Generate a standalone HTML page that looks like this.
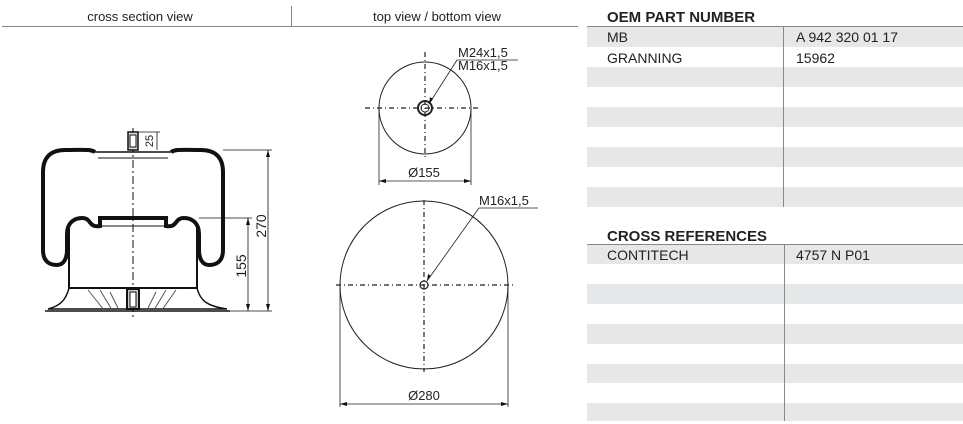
<!DOCTYPE html>
<html><head><style>
body{margin:0;background:#fff;}
svg{display:block;font-family:"Liberation Sans",Arial,sans-serif;}
</style></head><body>
<svg width="963" height="424" viewBox="0 0 963 424" xmlns="http://www.w3.org/2000/svg">
<!-- headers -->
<text x="140" y="21" font-size="13" text-anchor="middle" fill="#222">cross section view</text>
<text x="437" y="21" font-size="13" text-anchor="middle" fill="#222">top view / bottom view</text>
<line x1="2" y1="26.5" x2="578" y2="26.5" stroke="#888" stroke-width="1"/>
<line x1="291.5" y1="6" x2="291.5" y2="26" stroke="#888" stroke-width="1"/>

<!-- cross section -->
<g fill="none" stroke="#111">
<line x1="133" y1="128" x2="133" y2="318" stroke-dasharray="8,3,2,3" stroke-width="1"/>
<!-- upper bellows outer -->
<path d="M95 152 C90 149 85 150 65 150 C50 150 43 158 43 172 L43 250 C43 262 50 265 57 265 C64 265 67 258 67 250 L67 234 C67 222 75 218 82 218 C92 218 88 228 100 226 L100 218 L166 218 L166 226 C178 228 174 218 184 218 C191 218 199 222 199 234 L199 250 C199 258 202 265 209 265 C216 265 223 262 223 250 L223 172 C223 158 216 150 201 150 C181 150 176 149 171 152" stroke-width="4"/>
<line x1="95" y1="152" x2="171" y2="152" stroke-width="1.5"/>
<line x1="98" y1="158" x2="168" y2="158" stroke-width="1"/>
<line x1="98" y1="218" x2="168" y2="218" stroke-width="1"/>
<line x1="98" y1="226" x2="168" y2="226" stroke-width="1"/>
<!-- piston -->
<path d="M69 226 L69 288 L197 288 L197 226" stroke-width="2"/>
<path d="M69 288 C66 300 60 306 48 309 L227 309 C206 306 200 300 197 288" stroke-width="1.5"/>
<line x1="45" y1="311" x2="230" y2="311" stroke-width="1.5"/>
<path d="M88 290 L104 310 M100 290 L112 310 M110 292 L118 308 M176 290 L162 310 M166 290 L154 310 M156 292 L148 308" stroke-width="1" stroke="#555"/>
<rect x="127" y="289" width="12" height="20" stroke-width="2" fill="#ccc"/>
<rect x="130" y="292" width="6" height="15" stroke-width="1" fill="#fff"/>
<!-- top stud -->
<rect x="128" y="132" width="10" height="18" stroke-width="1.5" fill="#ddd"/>
<rect x="130" y="135" width="6" height="12" stroke-width="1" fill="#fff"/>
<!-- dims -->
<line x1="138" y1="132" x2="160" y2="132" stroke-width="0.8"/>
<line x1="157" y1="132" x2="157" y2="150" stroke-width="0.8"/>
<line x1="223" y1="150" x2="272" y2="150" stroke-width="0.8"/>
<line x1="199" y1="218" x2="252" y2="218" stroke-width="0.8"/>
<line x1="227" y1="311" x2="272" y2="311" stroke-width="0.8"/>
<line x1="268" y1="150" x2="268" y2="311" stroke-width="0.8"/>
<line x1="248" y1="218" x2="248" y2="311" stroke-width="0.8"/>
</g>
<g fill="#111">
<path d="M268 150 l-2 7 l4 0z M268 311 l-2 -7 l4 0z M248 218 l-2 7 l4 0z M248 311 l-2 -7 l4 0z"/>
</g>
<text transform="translate(153,141) rotate(-90)" font-size="11" text-anchor="middle" fill="#222">25</text>
<text transform="translate(266,226) rotate(-90)" font-size="14" text-anchor="middle" fill="#222">270</text>
<text transform="translate(246,266) rotate(-90)" font-size="14" text-anchor="middle" fill="#222">155</text>

<!-- small top view -->
<g fill="none" stroke="#222">
<circle cx="425" cy="108" r="46" stroke-width="1"/>
<line x1="365" y1="108" x2="480" y2="108" stroke-dasharray="5,3,1,3" stroke-width="1.2"/>
<line x1="425" y1="52" x2="425" y2="160" stroke-dasharray="5,3,1,3" stroke-width="1.2"/>
<circle cx="425" cy="108" r="7" stroke-width="2"/>
<circle cx="425" cy="108" r="4" stroke-width="1"/>
<line x1="379" y1="108" x2="379" y2="185" stroke-width="0.8"/>
<line x1="471" y1="108" x2="471" y2="185" stroke-width="0.8"/>
<line x1="379" y1="181" x2="471" y2="181" stroke-width="0.8"/>
<line x1="457" y1="60" x2="429" y2="104" stroke-width="0.8"/>
<line x1="457" y1="60" x2="518" y2="60" stroke-width="0.8"/>
</g>
<path d="M379 181 l7 -2 l0 4z M471 181 l-7 -2 l0 4z M429 104 l1 -7 l3 2z" fill="#111"/>
<text x="458" y="57" font-size="13" fill="#222">M24x1,5</text>
<text x="458" y="70" font-size="13" fill="#222">M16x1,5</text>
<text x="424" y="177" font-size="13" text-anchor="middle" fill="#222">Ø155</text>

<!-- big bottom view -->
<g fill="none" stroke="#222">
<circle cx="424" cy="285" r="84" stroke-width="1"/>
<line x1="336" y1="285" x2="516" y2="285" stroke-dasharray="5,3,1,3" stroke-width="1.2"/>
<line x1="424" y1="200" x2="424" y2="372" stroke-dasharray="5,3,1,3" stroke-width="1.2"/>
<circle cx="424" cy="285" r="4" stroke-width="1.2"/>
<line x1="340" y1="285" x2="340" y2="407" stroke-width="0.8"/>
<line x1="508" y1="285" x2="508" y2="407" stroke-width="0.8"/>
<line x1="340" y1="404" x2="508" y2="404" stroke-width="0.8"/>
<line x1="479" y1="208" x2="427" y2="281" stroke-width="0.8"/>
<line x1="479" y1="208" x2="538" y2="208" stroke-width="0.8"/>
</g>
<path d="M340 404 l7 -2 l0 4z M508 404 l-7 -2 l0 4z M427 281 l1 -7 l3 2z" fill="#111"/>
<text x="479" y="205" font-size="13" fill="#222">M16x1,5</text>
<text x="424" y="400" font-size="13" text-anchor="middle" fill="#222">Ø280</text>

<!-- tables -->
<g font-family="'Liberation Sans Narrow','Liberation Sans',sans-serif">
<text x="607" y="22" font-size="15" font-weight="bold" fill="#222">OEM PART NUMBER</text>
<line x1="587" y1="26.5" x2="963" y2="26.5" stroke="#888"/>
<g fill="#e6e7e8">
<rect x="587" y="27" width="376" height="20"/>
<rect x="587" y="67" width="376" height="20"/>
<rect x="587" y="107" width="376" height="20"/>
<rect x="587" y="147" width="376" height="20"/>
<rect x="587" y="187" width="376" height="20"/>
</g>
<line x1="783.5" y1="27" x2="783.5" y2="207" stroke="#888"/>
<text x="607" y="42" font-size="14" fill="#222">MB</text>
<text x="796" y="42" font-size="14" fill="#222">A 942 320 01 17</text>
<text x="607" y="63" font-size="14" fill="#222">GRANNING</text>
<text x="796" y="63" font-size="14" fill="#222">15962</text>

<text x="607" y="241" font-size="15" font-weight="bold" fill="#222">CROSS REFERENCES</text>
<line x1="587" y1="244.5" x2="963" y2="244.5" stroke="#888"/>
<g fill="#e6e7e8">
<rect x="587" y="245" width="376" height="19"/>
<rect x="587" y="284" width="376" height="20"/>
<rect x="587" y="324" width="376" height="20"/>
<rect x="587" y="364" width="376" height="19"/>
<rect x="587" y="403" width="376" height="18"/>
</g>
<line x1="784.5" y1="245" x2="784.5" y2="421" stroke="#888"/>
<text x="607" y="260" font-size="14" fill="#222">CONTITECH</text>
<text x="796" y="260" font-size="14" fill="#222">4757 N P01</text>
</g>
</svg>
</body></html>
